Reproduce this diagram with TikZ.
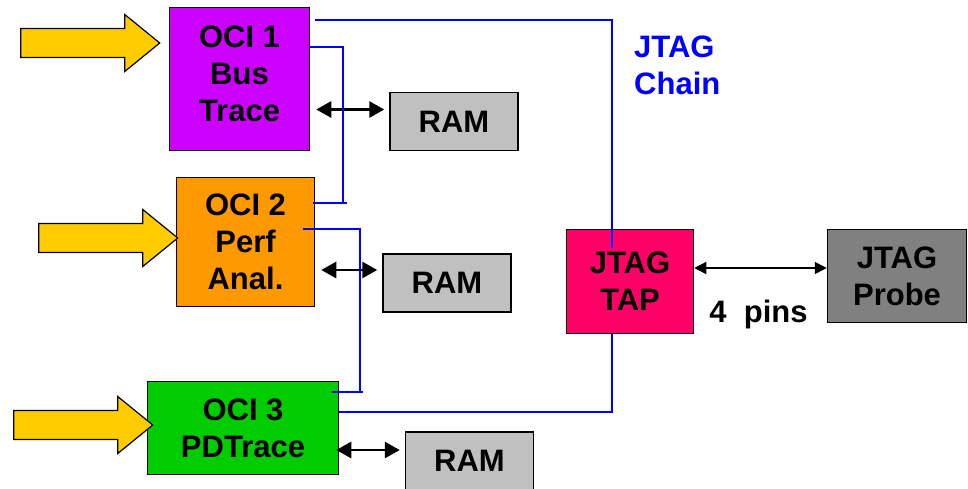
\documentclass[tikz,border=0pt]{standalone}
\usepackage{fontspec}
\setmainfont{Liberation Sans}
\usetikzlibrary{arrows.meta, positioning}

\definecolor{ociviolet}{HTML}{CC00FF}
\definecolor{ociorange}{HTML}{FF9900}
\definecolor{ocigreen}{HTML}{00CC00}
\definecolor{tapred}{HTML}{FF0066}
\definecolor{ramgray}{HTML}{C0C0C0}
\definecolor{probegray}{HTML}{808080}
\definecolor{feedyellow}{HTML}{FFCC00}
\definecolor{chainblue}{HTML}{0000FF}

\begin{document}
\begin{tikzpicture}[
        x = 1pt, y = -1pt,
        font = \bfseries\fontsize{31}{37}\selectfont,
        >= {Triangle[length = 15pt, width = 16pt]},
        block/.style = {draw = black, line width = 1.5pt, inner sep = 0pt, align = center},
        ram/.style = {block, fill = ramgray, minimum width = 128pt, minimum height = 58pt},
        feed/.style = {draw = black, line width = 1.2pt, fill = feedyellow, line join = miter},
        memlink/.style = {<->, line width = 2.8pt},
        probelink/.style = {{Triangle[length = 12pt, width = 12pt]}-{Triangle[length = 12pt, width = 12pt]}, line width = 1.3pt},
        chain/.style = {draw = chainblue, line width = 1.8pt}
    ]

      \useasboundingbox (0,0) rectangle (968,488);

      % trace blocks
      \node[block, fill = ociviolet, minimum width = 140pt, minimum height = 143pt,
            label = {[align = center, yshift = 5pt]center:{OCI 1\\Bus\\Trace}}] (oci1) at (239.5,79) {};
      \node[block, fill = ociorange, minimum width = 138pt, minimum height = 129pt] (oci2) at (245.5,242) {OCI 2\\Perf\\Anal.};
      \node[block, fill = ocigreen,  minimum width = 191pt, minimum height = 93pt]  (oci3) at (243,428)   {OCI 3\\PDTrace};

      \node[ram] (ram1) at (454,121.5) {RAM};
      \node[ram] (ram2) at (447,283)   {RAM};
      \node[ram] (ram3) at (469.5,461) {RAM};

      \node[block, fill = tapred,    minimum width = 127pt, minimum height = 104pt] (tap)   at (630,281.5) {JTAG\\TAP};
      \node[block, fill = probegray, minimum width = 139pt, minimum height = 93pt]  (probe) at (897,276)   {JTAG\\Probe};

      \node[anchor = north west, inner sep = 0pt, align = left, text = chainblue] (chainlbl) at (634,36) {JTAG\\Chain};

      % inputs into the trace blocks
      \foreach \blk/\dx/\dy in {oci1/-9/-36, oci2/2/-4, oci3/6/-3}
        \draw[feed] ([shift = {(\dx,\dy)}]\blk.west) -- ++(-35,-28.5) -- ++(0,14) -- ++(-104,0)
                    -- ++(0,29) -- ++(104,0) -- ++(0,14) -- cycle;

      % memory ports
      \foreach \src/\dst/\up/\gap in {oci1/ram1/12pt/6pt, oci2/ram2/13pt/6pt, oci3/ram3/11pt/-3pt} {
        \coordinate (m) at ([yshift = \up]\dst.west);
        \draw[memlink, shorten <= \gap, shorten >= 5pt] (m -| \src.east) -- (m);
      }

      % jtag chain
      \draw[chain] ([shift = {(5,13)}]oci1.north east) -| ([shift = {(46,19)}]tap.north west);
      \draw[chain] ([shift = {(0,40)}]oci1.north east) -| ([shift = {(28,26)}]oci2.north east);
      \draw[chain] ([shift = {(-2,26)}]oci2.north east) -- ([shift = {(32,26)}]oci2.north east);
      \draw[chain] ([shift = {(-12,52)}]oci2.north east) -| ([shift = {(21,11)}]oci3.north east);
      \draw[chain] ([shift = {(-7,11)}]oci3.north east) -- ([shift = {(24,11)}]oci3.north east);
      \draw[chain] ([shift = {(0,31)}]oci3.north east) -| ([shift = {(46,0)}]tap.south west);

      % probe link
      \coordinate (p) at ([yshift = 13.5pt]tap.east);
      \draw[probelink] (p) -- (p -| probe.west)
            node[midway, below = 31pt, inner sep = 0pt, xshift = -2pt] (pins) {4~~pins};

    \end{tikzpicture}
\end{document}
